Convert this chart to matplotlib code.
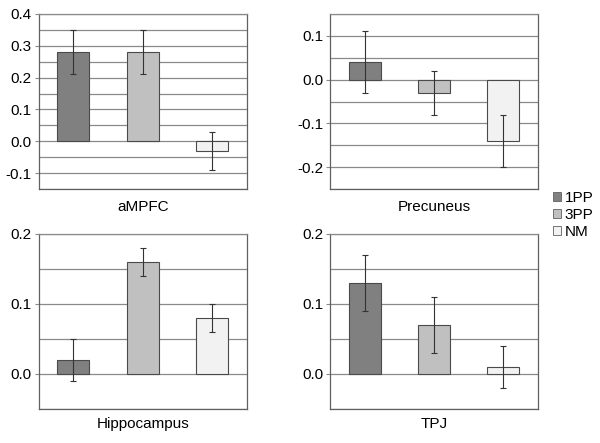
import numpy as np
import matplotlib
matplotlib.use("Agg")
import matplotlib.pyplot as plt
from matplotlib.ticker import MultipleLocator
from matplotlib.patches import Patch

plt.rcParams['font.family'] = ['Liberation Sans', 'DejaVu Sans']

# data
conditions = ['1PP', '3PP', 'NM']
regions = ['aMPFC', 'Precuneus', 'Hippocampus', 'TPJ']
ampfc_means = [0.28, 0.28, -0.03]
ampfc_err = [0.07, 0.07, 0.06]
precuneus_means = [0.04, -0.03, -0.14]
precuneus_err = [0.07, 0.05, 0.06]
hippocampus_means = [0.02, 0.16, 0.08]
hippocampus_err = [0.03, 0.02, 0.02]
tpj_means = [0.13, 0.07, 0.01]
tpj_err = [0.04, 0.04, 0.03]

ylims = {
    'aMPFC': (-0.15, 0.4),
    'Precuneus': (-0.25, 0.15),
    'Hippocampus': (-0.05, 0.2),
    'TPJ': (-0.05, 0.2),
}
means = {'aMPFC': ampfc_means, 'Precuneus': precuneus_means,
         'Hippocampus': hippocampus_means, 'TPJ': tpj_means}
errs = {'aMPFC': ampfc_err, 'Precuneus': precuneus_err,
        'Hippocampus': hippocampus_err, 'TPJ': tpj_err}

colors = ['#808080', '#c0c0c0', '#f2f2f2']
edge = '#4a4a4a'
grid_col = '#8a8a8a'
fs = 11

W, H = 600, 443
fig = plt.figure(figsize=(6, 4.43), dpi=100)

# axes boxes in pixels: left, top, right, bottom
boxes = {
    'aMPFC': (38.7, 14, 246.7, 189),
    'Precuneus': (330, 14, 538, 189),
    'Hippocampus': (38.7, 234, 246.7, 408.7),
    'TPJ': (330, 234, 538, 408.7),
}
title_offset = {'aMPFC': 18, 'Precuneus': 18, 'Hippocampus': 15.5, 'TPJ': 15.5}

for name in regions:
    l, t, r, b = boxes[name]
    ax = fig.add_axes([l / W, 1 - b / H, (r - l) / W, (b - t) / H])
    x = np.arange(len(conditions))
    ax.bar(x, means[name], width=0.46, color=colors, edgecolor=edge,
           linewidth=0.8, zorder=2)
    ax.errorbar(x, means[name], yerr=errs[name], fmt='none', ecolor='#333333',
                elinewidth=0.8, capsize=2, capthick=0.8, zorder=3)
    ax.set_xlim(-0.5, 2.5)
    ax.set_ylim(*ylims[name])
    ax.yaxis.set_major_locator(MultipleLocator(0.1))
    ax.yaxis.set_minor_locator(MultipleLocator(0.05))
    ax.yaxis.set_major_formatter(plt.FormatStrFormatter('%.1f'))
    ax.set_axisbelow(True)
    ax.grid(which='both', axis='y', color=grid_col, linewidth=0.9)
    ax.set_xticks([])
    ax.tick_params(axis='y', which='major', length=3, width=0.8, color=grid_col,
                   labelsize=fs, pad=2)
    ax.tick_params(axis='y', which='minor', length=0)
    for s in ax.spines.values():
        s.set_color('#606060')
        s.set_linewidth(0.9)
    ax.spines['top'].set_color(grid_col)
    h = b - t
    ax.text(0.5, -title_offset[name] / h, name, transform=ax.transAxes,
            ha='center', va='center', fontsize=fs)

handles = [Patch(facecolor=c, edgecolor='#606060', linewidth=0.6) for c in colors]
fig.legend(handles, conditions, loc='upper left',
           bbox_to_anchor=(553 / W, 1 - 191 / H), frameon=False,
           fontsize=fs, handlelength=0.5, handleheight=0.5,
           handletextpad=0.25, labelspacing=0.2, borderpad=0, borderaxespad=0)

fig.savefig('out.png', dpi=100, facecolor='white')
